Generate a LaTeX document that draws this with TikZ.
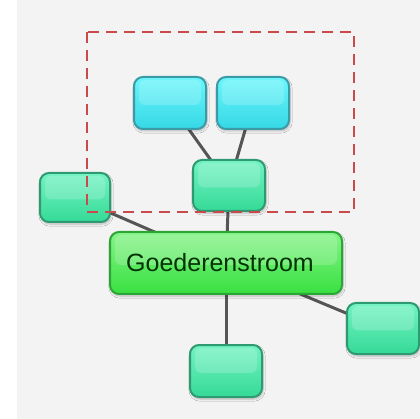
\documentclass[tikz,border=0pt]{standalone}
\usepackage{fontspec}
\setmainfont{Liberation Sans}
\usepackage{tikz}
\usetikzlibrary{shadows.blur}

\definecolor{paper}{HTML}{F3F3F3}
\definecolor{cyantop}{HTML}{6CF6FB}
\definecolor{cyanbot}{HTML}{35D8E6}
\definecolor{cyanrim}{HTML}{3A9AA6}
\definecolor{minttop}{HTML}{74F3C3}
\definecolor{mintbot}{HTML}{35DA97}
\definecolor{mintrim}{HTML}{2E9A72}
\definecolor{limetop}{HTML}{86F488}
\definecolor{limebot}{HTML}{38E040}
\definecolor{limerim}{HTML}{2BA535}
\definecolor{linkgray}{HTML}{555555}
\definecolor{frame}{HTML}{C84A4A}

\tikzset{
  gloss/.style={path picture={
      \fill[white,opacity=.18,rounded corners=6pt]
        ([xshift=5pt,yshift=-3pt]path picture bounding box.north west) rectangle
        ([xshift=-5pt,yshift=-2pt]path picture bounding box.east);}},
  box/.style={rounded corners=9pt, line width=2pt, gloss,
      blur shadow={shadow xshift=1pt, shadow yshift=-2pt, shadow opacity=25, shadow blur steps=6}},
  cyanbox/.style={box, draw=cyanrim, top color=cyantop, bottom color=cyanbot,
      minimum width=72pt, minimum height=52pt},
  mintbox/.style={box, draw=mintrim, top color=minttop, bottom color=mintbot,
      minimum width=72pt, minimum height=51pt},
  mainbox/.style={box, draw=limerim, top color=limetop, bottom color=limebot,
      minimum width=232pt, minimum height=62pt, text=black!80!green,
      font=\fontsize{25}{29}\selectfont},
  link/.style={linkgray, line width=3pt}
}

\begin{document}
\begin{tikzpicture}[x=1pt,y=-1pt]
        \useasboundingbox (0,0) rectangle (420,419);
        \fill[white] (0,0) rectangle (420,419);
        \fill[paper] (17,0) rectangle (420,419);

        % links
        \coordinate (cA) at (170,103);
        \coordinate (cB) at (253,103);
        \coordinate (cM) at (229,185.5);
        \coordinate (cL) at (75,197.5);
        \coordinate (cG) at (226,263);
        \coordinate (cR) at (383,328.5);
        \coordinate (cD) at (226,371);
        \draw[link] (cA) -- (cM);
        \draw[link] (cB) -- (cM);
        \draw[link] (cM) -- (cG);
        \draw[link] (cL) -- (cG);
        \draw[link] (cG) -- (cR);
        \draw[link] (cG) -- (cD);

        % boxes
        \node[cyanbox] (topleft) at (cA) {};
        \node[cyanbox] (topright) at (cB) {};
        \node[mintbox] (middle) at (cM) {};
        \node[mintbox, minimum width=70pt, minimum height=49pt] (left) at (cL) {};
        \node[mintbox] (right) at (cR) {};
        \node[mintbox, minimum height=52pt] (bottom) at (cD) {};
        \node[mainbox] (goods) at (cG) {\hspace*{-12pt}Goederenstroom};

        % selection frame
        \draw[frame, line width=2.7pt, dash pattern=on 11pt off 7pt] (87,32) rectangle (354,212);
\end{tikzpicture}
\end{document}
